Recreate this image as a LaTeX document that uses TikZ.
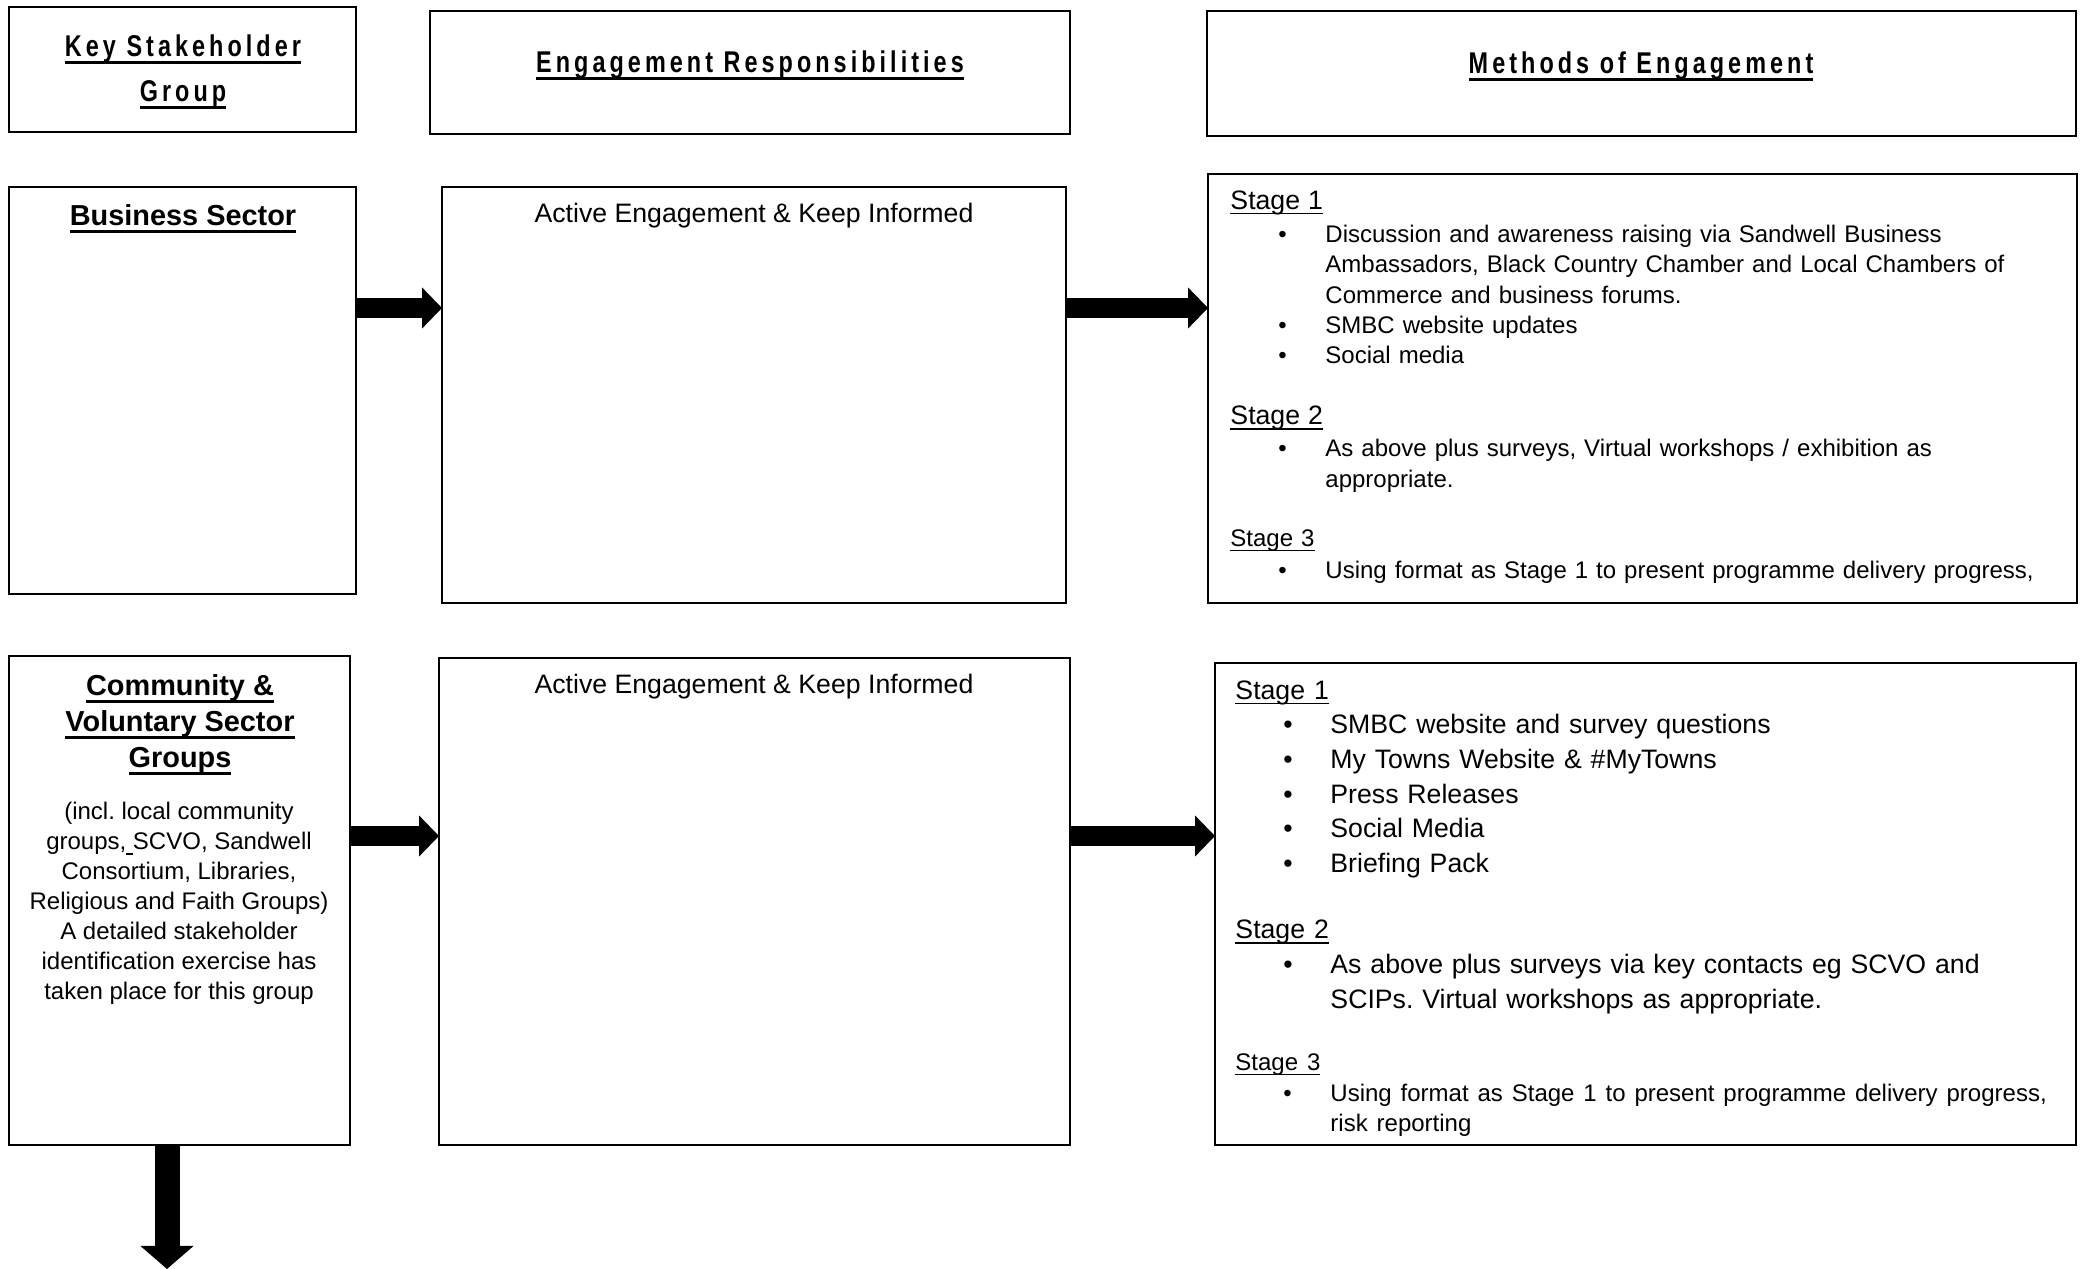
\documentclass[tikz,border=0pt]{standalone}
\usepackage{fontspec}
\setmainfont{Liberation Sans}
\newfontfamily\headfont{Liberation Sans}[FakeStretch=0.78,LetterSpace=13.5]
\usetikzlibrary{positioning,fit,arrows.meta}
\frenchspacing

% underlined text, Word style
\newcommand\ulbox[1]{\leavevmode\setbox0\hbox{#1}\rlap{\rule[-0.2em]{\wd0}{0.07em}}\box0}
\newcommand\ulbold[1]{\leavevmode\setbox0\hbox{#1}\rlap{\rule[-0.27em]{\wd0}{0.12em}}\box0}
% bullet line inside the methods boxes
\newcommand\bitem[1]{\par\noindent\hangindent=42.75pt\hangafter=1\makebox[42.75pt][l]{\hspace{21.6pt}\textbullet}#1\par}

\begin{document}
\begin{tikzpicture}[x=0.45pt,y=-0.45pt,
    box/.style={draw,line width=0.8pt,inner sep=0pt,outer sep=0pt},
    headtxt/.style={anchor=north,align=center,inner sep=0pt,font=\headfont\bfseries\fontsize{13.5}{20.25}\selectfont},
    grouptxt/.style={anchor=north,align=center,inner sep=0pt,font=\bfseries\fontsize{13}{16.2}\selectfont},
    plaintxt/.style={anchor=north,align=center,inner sep=0pt,font=\fontsize{12}{14}\selectfont},
    fatarrow/.style={line width=9pt,-{Triangle[width=18pt,length=9pt]}},
    downarrow/.style={line width=11.25pt,-{Triangle[width=23.4pt,length=10.4pt]}}]
    \useasboundingbox (0,0) rectangle (2082,1269);

    % Column headers
    \node[box,fit={(9,7) (356,132)}] (hgroup) {};
    \node[box,fit={(430,11) (1070,134)}] (hresp) {};
    \node[box,fit={(1207,11) (2076,136)}] (hmeth) {};
    \node[headtxt] (hgrouptxt) at (183,34) {\ulbold{Key Stakeholder}\\\ulbold{Group}};
    \node[headtxt] (hresptxt) at (750,50) {\ulbold{Engagement Responsibilities}};
    \node[headtxt] (hmethtxt) at (1641,51) {\ulbold{Methods of Engagement}};

    % Business sector row
    \node[box,fit={(9,187) (356,594)}] (bus) {};
    \node[box,fit={(442,187) (1066,603)}] (act1) {};
    \node[box,fit={(1208,174) (2077,603)}] (met1) {};
    \node[grouptxt] (bustxt) at (183,204) {\ulbold{Business Sector}};
    \node[plaintxt] (act1txt) at (754,203) {Active Engagement \& Keep Informed};
    \node[anchor=north west,text width=380pt,align=left,inner sep=0pt,
          font=\fontsize{10.8}{13.7}\selectfont] (met1txt) at (1230,190) {%
        {\fontsize{12}{13.7}\selectfont\ulbox{Stage 1}}\par\vspace{1.2pt}
        \bitem{Discussion and awareness raising via Sandwell Business\newline Ambassadors, Black Country Chamber and Local Chambers of\newline Commerce and business forums.}
        \bitem{SMBC website updates}
        \bitem{Social media}
        \vspace{13.7pt}
        {\fontsize{12}{13.7}\selectfont\ulbox{Stage 2}}\par\vspace{0.7pt}
        \bitem{As above plus surveys, Virtual workshops / exhibition as\newline appropriate.}
        \vspace{13pt}
        \noindent\ulbox{Stage 3}\par\vspace{0.7pt}
        \bitem{Using format as Stage 1 to present programme delivery progress,}};

    % Community and voluntary row
    \node[box,fit={(9,656) (350,1145)}] (com) {};
    \node[box,fit={(439,658) (1070,1145)}] (act2) {};
    \node[box,fit={(1215,663) (2076,1145)}] (met2) {};
    \node[grouptxt] (comtxt) at (180,674) {\ulbold{Community \&}\\\ulbold{Voluntary Sector}\\\ulbold{Groups}};
    \node[anchor=north,align=center,inner sep=0pt,font=\fontsize{10.8}{13.45}\selectfont] (comnote) at (179,802)
        {(incl. local community\\groups,\ulbox{\ }SCVO, Sandwell\\Consortium, Libraries,\\Religious and Faith Groups)\\A detailed stakeholder\\identification exercise has\\taken place for this group};
    \node[plaintxt] (act2txt) at (754,674) {Active Engagement \& Keep Informed};
    \node[anchor=north west,text width=380pt,align=left,inner sep=0pt,
          font=\fontsize{12}{15.6}\selectfont] (met2txt) at (1235,680) {%
        \noindent\ulbox{Stage 1}\par
        \bitem{SMBC website and survey questions}
        \bitem{My Towns Website \& \#MyTowns}
        \bitem{Press Releases}
        \bitem{Social Media}
        \bitem{Briefing Pack}
        \vspace{14.3pt}
        \noindent\ulbox{Stage 2}\par
        \bitem{As above plus surveys via key contacts eg SCVO and\newline SCIPs. Virtual workshops as appropriate.}
        {\fontsize{10.8}{13.7}\selectfont
        \vspace{14.4pt}
        \noindent\ulbox{Stage 3}\par
        \bitem{Using format as Stage 1 to present programme delivery progress,\newline risk reporting}}};

    % Arrows
    \coordinate (row1) at (0,308);
    \coordinate (row2) at (0,836);
    \coordinate (bottom) at (167,1269);
    \draw[fatarrow] (bus.east |- row1) -- (act1.west |- row1);
    \draw[fatarrow] (act1.east |- row1) -- (met1.west |- row1);
    \draw[fatarrow] (com.east |- row2) -- (act2.west |- row2);
    \draw[fatarrow] (act2.east |- row2) -- (met2.west |- row2);
    \draw[downarrow] (com.south -| bottom) -- (bottom);
\end{tikzpicture}
\end{document}
